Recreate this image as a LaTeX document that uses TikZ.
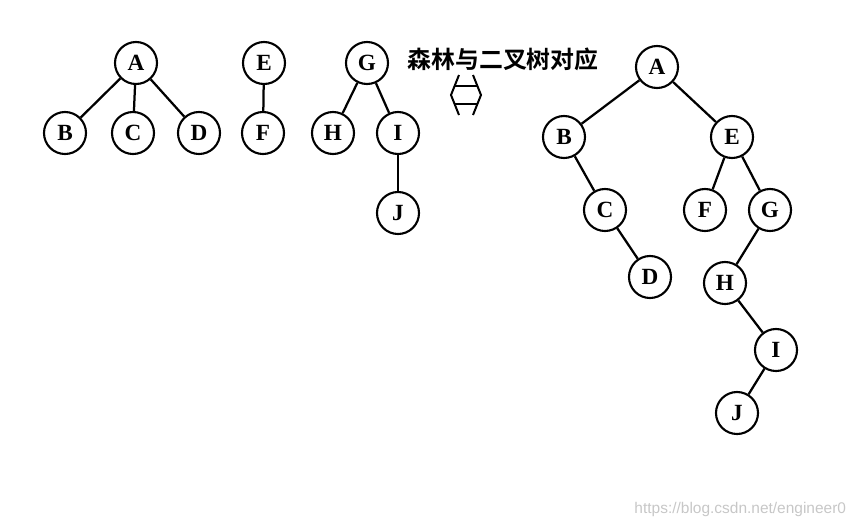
\documentclass[tikz,border=0pt]{standalone}
\usepackage{fontspec}
\setmainfont{Liberation Serif}
\newfontfamily\cjk{Noto Sans CJK SC}[BoldFont={Noto Sans CJK SC Bold}]
\newfontfamily\wmfont{Liberation Sans}
\tikzset{
	vtx/.style={draw, circle, line width=1.5pt, minimum size=1.05cm, inner sep=0pt, font=\fontsize{16.5}{19}\selectfont\bfseries},
	edge/.style={line width=1.6pt}
}
\newcommand{\vtx}[4] % name, x, y, letter
{
	\node[vtx] (#1) at (#2,#3) {#4};
}

\begin{document}
\begin{tikzpicture}[x=0.025cm, y=-0.025cm]
	% 860px x 528px
	\useasboundingbox (0,0) rectangle (860,528);
	% forest
	\vtx{fA}{136}{63}{A};
	\vtx{fB}{65}{133}{B};
	\vtx{fC}{133}{133}{C};
	\vtx{fD}{199}{133}{D};
	\vtx{fE}{264}{63}{E};
	\vtx{fF}{263}{133}{F};
	\vtx{fG}{367}{63}{G};
	\vtx{fH}{333}{133}{H};
	\vtx{fI}{398}{133}{I};
	\vtx{fJ}{398}{213}{J};
	\draw[edge] (fA) -- (fB);
	\draw[edge] (fA) -- (fC);
	\draw[edge] (fA) -- (fD);
	\draw[edge] (fE) -- (fF);
	\draw[edge] (fG) -- (fH);
	\draw[edge] (fG) -- (fI);
	\draw[edge] (fI) -- (fJ);

	% title and double arrow
	\node[font=\cjk\bfseries\fontsize{17}{20}\selectfont] (title) at (503,59) {森林与二叉树对应};
	\draw[line width=1.4pt] (459,75) -- (451,95) -- (459,115);
	\draw[line width=1.4pt] (473,75) -- (481,95) -- (473,115);
	\draw[line width=1.4pt] (455,86) -- (477,86);
	\draw[line width=1.4pt] (455,104) -- (477,104);

	% binary tree
	\vtx{bA}{657}{67}{A};
	\vtx{bB}{564}{137}{B};
	\vtx{bE}{732}{137}{E};
	\vtx{bC}{605}{210}{C};
	\vtx{bF}{705}{210}{F};
	\vtx{bG}{770}{210}{G};
	\vtx{bD}{650}{277}{D};
	\vtx{bH}{725}{283}{H};
	\vtx{bI}{776}{350}{I};
	\vtx{bJ}{737}{413}{J};
	\draw[edge] (bA) -- (bB);
	\draw[edge] (bA) -- (bE);
	\draw[edge] (bB) -- (bC);
	\draw[edge] (bC) -- (bD);
	\draw[edge] (bE) -- (bF);
	\draw[edge] (bE) -- (bG);
	\draw[edge] (bG) -- (bH);
	\draw[edge] (bH) -- (bI);
	\draw[edge] (bI) -- (bJ);

	% watermark
	\node[font=\wmfont\fontsize{11}{13}\selectfont, text=black!22, anchor=east] (mark) at (851,509) {https://blog.csdn.net/engineer0};
\end{tikzpicture}
\end{document}
